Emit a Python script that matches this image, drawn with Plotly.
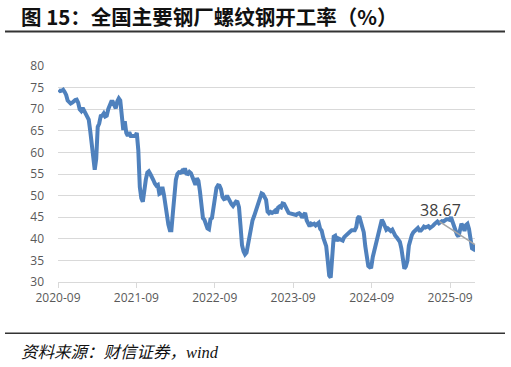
import pandas as pd
import plotly.graph_objects as go

# ---- data: weekly operating rate of rebar at major steel mills (%) ----
start_date = "2020-09-04"
rate = [
    74.5, 74.2, 74.3, 74.5, 74.0, 73.3, 72.0, 71.5, 71.3, 71.5,
    72.0, 72.1, 72.2, 71.5, 70.0, 69.6, 70.3, 69.5, 68.8, 68.2,
    67.6, 65.0, 61.3, 58.0, 56.0, 58.5, 65.9, 66.7, 68.4, 68.5,
    69.0, 68.3, 68.5, 70.0, 71.2, 71.7, 71.7, 71.0, 70.2, 71.8,
    72.5, 72.0, 67.0, 65.2, 67.2, 64.5, 63.8, 64.7, 63.8, 63.8,
    63.9, 63.8, 64.5, 60.5, 52.0, 49.4, 48.6, 51.6, 53.7, 55.3,
    55.6, 55.0, 54.0, 53.6, 52.8, 52.3, 52.5, 50.4, 50.6, 52.0,
    50.3, 47.5, 45.0, 43.3, 42.0, 42.0, 46.0, 50.5, 53.7, 55.0,
    55.4, 55.3, 55.7, 55.2, 56.3, 55.1, 55.0, 55.5, 55.2, 54.3,
    53.6, 52.5, 54.0, 53.4, 51.0, 47.5, 44.8, 44.4, 43.3, 42.4,
    42.2, 44.5, 44.8, 47.5, 49.8, 51.8, 52.4, 52.3, 51.5, 49.7,
    49.2, 49.3, 50.0, 49.2, 48.5, 48.0, 47.6, 48.3, 48.6, 48.5,
    47.3, 43.0, 38.5, 37.1, 36.4, 36.8, 38.8, 40.6, 41.8, 44.3,
    45.2, 46.3, 47.3, 48.7, 50.0, 50.5, 50.3, 49.8, 49.0, 46.3,
    45.9, 46.2, 46.0, 46.2, 46.5, 45.9, 47.2, 47.5, 47.3, 48.2,
    48.1, 47.4, 46.6, 46.0, 45.9, 45.8, 45.9, 45.8, 45.5, 45.8,
    45.9, 45.6, 44.9, 45.5, 46.0, 44.3, 43.7, 42.9, 43.5, 43.3,
    43.5, 43.1, 43.4, 43.7, 42.3, 41.9, 40.3, 39.4, 38.3, 35.0,
    31.5, 31.0, 37.0, 40.5, 40.7, 39.5, 40.1, 39.9, 39.6, 39.6,
    40.4, 40.8, 41.1, 41.4, 41.7, 42.0, 41.9, 42.0, 42.7, 44.8,
    45.2, 43.8, 43.0, 41.5, 38.3, 35.0, 33.7, 33.4, 33.5, 35.8,
    37.2, 38.5, 40.0, 41.8, 43.5, 44.4, 43.8, 42.6, 42.1, 42.4,
    42.2, 41.8, 42.1, 41.3, 40.7, 40.3, 39.7, 39.3, 37.8, 35.5,
    33.1, 33.6, 34.9, 38.4, 40.1, 40.9, 41.5, 41.9, 42.2, 42.5,
    41.9, 41.9, 42.3, 42.8, 42.6, 42.8, 42.9, 42.5, 42.7, 43.0,
    43.4, 43.8, 44.0, 43.6, 43.9, 44.1, 44.0, 44.3, 44.5, 44.5,
    44.4, 45.0, 43.8, 42.8, 42.0, 41.0, 40.5, 41.8, 43.5, 42.9,
    41.8, 43.2, 43.5, 42.3, 40.0, 37.8, 37.6, 38.67,
]
dates = pd.date_range(start_date, periods=len(rate), freq="7D")

x_tick_vals = ["2020-09-01", "2021-09-01", "2022-09-01", "2023-09-01", "2024-09-01", "2025-09-01"]
x_tick_text = ["2020-09", "2021-09", "2022-09", "2023-09", "2024-09", "2025-09"]
y_tick_vals = [30, 35, 40, 45, 50, 55, 60, 65, 70, 75, 80]

title_text = "图&nbsp;15：全国主要钢厂螺纹钢开工率（%）"
source_text = "资料来源：财信证券，wind"
last_label = "38.67"

# ---- layout geometry (pixels) ----
W, H = 511, 367
L, R, T, B = 58, 36, 66, 85
pw, ph = W - L - R, H - T - B


def px(xp):
    return (xp - L) / pw


def py(yp):
    return (H - B - yp) / ph


fig = go.Figure()
fig.add_trace(go.Scatter(
    x=dates, y=rate, mode="lines",
    line=dict(color="#4F81BD", width=4),
    hoverinfo="skip", showlegend=False,
))

tick_font = dict(family="Open Sans, Lato, sans-serif", size=12, color="#595959")

fig.update_layout(
    width=W, height=H,
    margin=dict(l=L, r=R, t=T, b=B),
    paper_bgcolor="white", plot_bgcolor="white",
    xaxis=dict(
        type="date",
        range=["2020-09-01", dates[-1]],
        tickvals=x_tick_vals, ticktext=x_tick_text,
        showgrid=False, zeroline=False,
        showline=True, linecolor="#d9d9d9", linewidth=1,
        ticks="outside", ticklen=5, tickcolor="#d9d9d9",
        tickfont=tick_font,
    ),
    yaxis=dict(
        range=[30, 80], tickvals=y_tick_vals,
        showgrid=True, gridcolor="#d9d9d9", gridwidth=1,
        zeroline=False, showline=False, ticks="",
        ticklabelstandoff=13,
        tickfont=tick_font,
    ),
    shapes=[
        dict(type="line", xref="paper", yref="paper",
             x0=px(5), x1=px(505), y0=py(31.5), y1=py(31.5),
             line=dict(color="#333333", width=1.8)),
        dict(type="line", xref="paper", yref="paper",
             x0=px(5), x1=px(505), y0=py(333.3), y1=py(333.3),
             line=dict(color="#333333", width=1.6)),
    ],
    annotations=[
        dict(xref="paper", yref="paper", x=px(19), y=py(16),
             xanchor="left", yanchor="middle", showarrow=False,
             text="<b>" + title_text + "</b>",
             font=dict(family="Noto Sans CJK SC", size=20.5, color="#111111")),
        dict(xref="paper", yref="paper", x=px(19), y=py(352),
             xanchor="left", yanchor="middle", showarrow=False,
             text="<i>" + source_text + "</i>",
             font=dict(family="Liberation Serif, Noto Sans CJK SC", size=16.5, color="#111111")),
        dict(x=dates[-1], y=rate[-1], xref="x", yref="y",
             text="", showarrow=True, arrowhead=0, arrowwidth=1.5,
             arrowcolor="#a6a6a6", ax=-37, ay=-24, standoff=0),
        dict(x=dates[-1], y=rate[-1], xref="x", yref="y",
             text=last_label, showarrow=False,
             xshift=-35, yshift=35,
             font=dict(family="Open Sans, Lato, sans-serif", size=16, color="#404040")),
    ],
)

fig.write_html("out.html")
